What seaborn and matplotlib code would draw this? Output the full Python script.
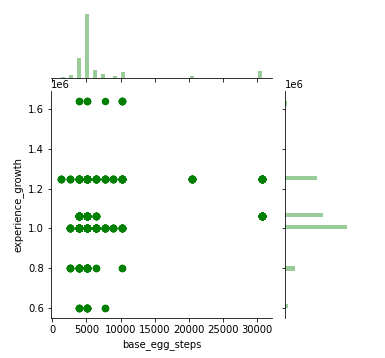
import numpy as np
import pandas as pd
import matplotlib
matplotlib.use('Agg')
import matplotlib.pyplot as plt
import seaborn as sns

# Unique (base_egg_steps, experience_growth) pairs and how many rows share each pair
egg_steps = [3840, 5120, 7680, 10240,
             3840, 5120, 7680,
             2560, 3840, 5120, 6400, 10240,
             3840, 5120, 6400, 30720,
             1280, 2560, 3840, 5120, 6400, 7680, 8960, 10240, 20480, 30720,
             2560, 3840, 5120, 6400, 7680, 8960, 10240]
exp_growth = [1640000] * 4 + [600000] * 3 + [800000] * 5 + [1059860] * 4 \
    + [1250000] * 10 + [1000000] * 7
pair_counts = [2, 3, 1, 5,
               4, 10, 2,
               5, 15, 30, 2, 2,
               30, 135, 8, 25,
               5, 5, 20, 50, 15, 10, 6, 20, 13, 22,
               10, 62, 192, 28, 14, 7, 13]

df = pd.DataFrame({
    'base_egg_steps': np.repeat(egg_steps, pair_counts),
    'experience_growth': np.repeat(exp_growth, pair_counts),
})

g = sns.JointGrid(data=df, x='base_egg_steps', y='experience_growth',
                  ratio=3, space=0.2)
g.plot_joint(sns.scatterplot, color='green', s=36, linewidth=1.5,
             edgecolor='green', alpha=1)
g.plot_marginals(sns.histplot, bins=50, color='green', alpha=0.4,
                 edgecolor=None, linewidth=0)

fig = g.figure
fig.set_size_inches(385 / 72, 358 / 72)
fig.subplots_adjust(left=51 / 385, right=350 / 385, top=1 - 11 / 358,
                    bottom=1 - 318 / 358, wspace=0.2, hspace=0.2)
fig.savefig('out.png', dpi=72)
